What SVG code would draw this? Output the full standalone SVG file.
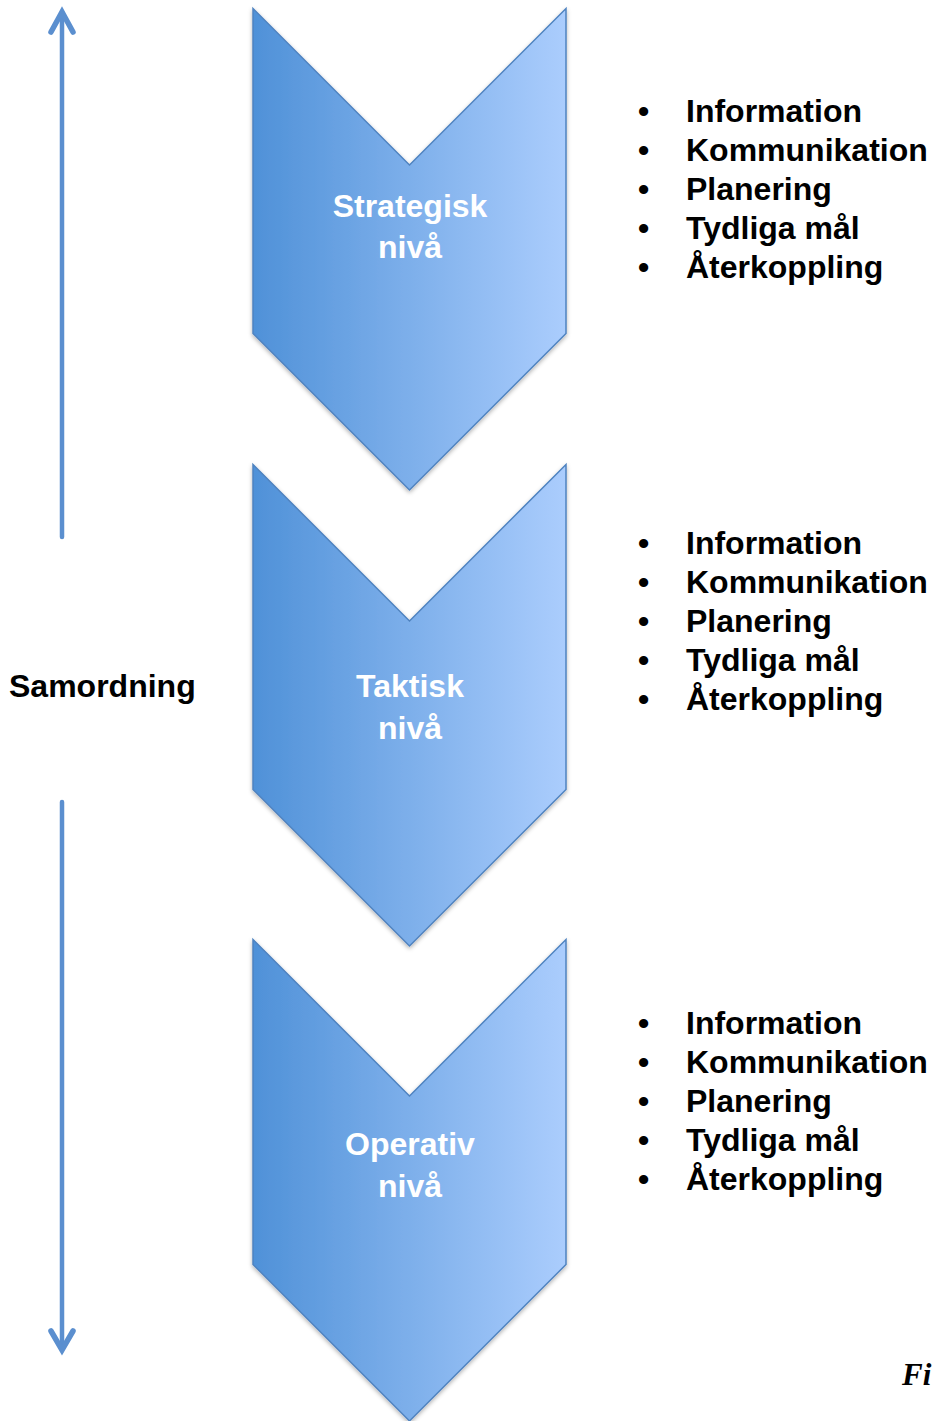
<svg xmlns="http://www.w3.org/2000/svg" width="933" height="1421" viewBox="0 0 933 1421">
  <style>
    .lvl { fill: url(#chevFill); stroke: #4f83c0; stroke-width: 1.5; filter: url(#shadow); }
    .lvl-label { font-family: "Liberation Sans", Arial, sans-serif; font-weight: bold; font-size: 32px; fill: #ffffff; text-anchor: middle; }
    .item { font-family: "Liberation Sans", Arial, sans-serif; font-weight: bold; font-size: 32px; fill: #000000; }
    .side { font-family: "Liberation Sans", Arial, sans-serif; font-weight: bold; font-size: 32px; fill: #000000; }
    .caption { font-family: "Liberation Serif", "Times New Roman", serif; font-weight: bold; font-style: italic; font-size: 31px; fill: #000000; }
    .axis { fill: none; stroke: #5b8fcf; stroke-width: 4.5; stroke-linecap: round; stroke-linejoin: miter; }
    .axis-head { fill: none; stroke: #5b8fcf; stroke-width: 5.5; stroke-linecap: round; stroke-linejoin: miter; }
  </style>
  <defs>
    <linearGradient id="chevFill" x1="0" y1="0" x2="1" y2="0">
      <stop offset="0" stop-color="#4f91d8"/>
      <stop offset="1" stop-color="#abcdfd"/>
    </linearGradient>
    <filter id="shadow" x="-10%" y="-10%" width="120%" height="120%">
      <feDropShadow dx="0" dy="2" stdDeviation="2" flood-color="#000000" flood-opacity="0.3"/>
    </filter>
    <!-- one chevron, 313 wide, anchored at its top-left corner -->
    <path id="chevron" d="M0,0 L156.5,156.5 L313,0 L313,325 L156.5,481.5 L0,325 Z"/>
  </defs>

  <rect width="933" height="1421" fill="#ffffff"/>

  <!-- vertical coordination axis -->
  <g id="connectors">
    <path class="axis" d="M62,537 L62,14"/>
    <path class="axis-head" d="M51,32 L62,12 L73,32"/>
    <path class="axis" d="M62,802 L62,1348"/>
    <path class="axis-head" d="M51,1331 L62,1350 L73,1331"/>
  </g>

  <g id="samordning">
    <text class="side" x="9" y="697">Samordning</text>
  </g>

  <!-- levels -->
  <g id="strategisk">
    <use href="#chevron" class="lvl" x="253" y="8.5"/>
    <text class="lvl-label" x="410" y="217">Strategisk</text>
    <text class="lvl-label" x="410" y="258">nivå</text>
  </g>

  <g id="taktisk">
    <use href="#chevron" class="lvl" x="253" y="464.5"/>
    <text class="lvl-label" x="410" y="697">Taktisk</text>
    <text class="lvl-label" x="410" y="739">nivå</text>
  </g>

  <g id="operativ">
    <use href="#chevron" class="lvl" x="253" y="939.5"/>
    <text class="lvl-label" x="410" y="1155">Operativ</text>
    <text class="lvl-label" x="410" y="1197">nivå</text>
  </g>

  <!-- bullet lists beside each level -->
  <g id="list-strategisk" class="item">
    <text x="638" y="122">•</text><text x="686" y="122">Information</text>
    <text x="638" y="161">•</text><text x="686" y="161">Kommunikation</text>
    <text x="638" y="200">•</text><text x="686" y="200">Planering</text>
    <text x="638" y="239">•</text><text x="686" y="239">Tydliga mål</text>
    <text x="638" y="278">•</text><text x="686" y="278">Återkoppling</text>
  </g>

  <g id="list-taktisk" class="item">
    <text x="638" y="554">•</text><text x="686" y="554">Information</text>
    <text x="638" y="593">•</text><text x="686" y="593">Kommunikation</text>
    <text x="638" y="632">•</text><text x="686" y="632">Planering</text>
    <text x="638" y="671">•</text><text x="686" y="671">Tydliga mål</text>
    <text x="638" y="710">•</text><text x="686" y="710">Återkoppling</text>
  </g>

  <g id="list-operativ" class="item">
    <text x="638" y="1034">•</text><text x="686" y="1034">Information</text>
    <text x="638" y="1073">•</text><text x="686" y="1073">Kommunikation</text>
    <text x="638" y="1112">•</text><text x="686" y="1112">Planering</text>
    <text x="638" y="1151">•</text><text x="686" y="1151">Tydliga mål</text>
    <text x="638" y="1190">•</text><text x="686" y="1190">Återkoppling</text>
  </g>

  <g id="caption">
    <text class="caption" x="902" y="1385">Fi</text>
  </g>
</svg>
